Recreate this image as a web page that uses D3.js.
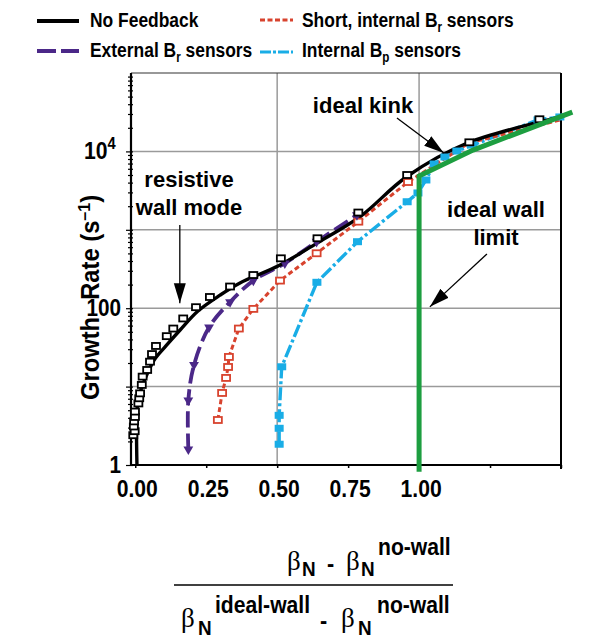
<!DOCTYPE html>
<html><head><meta charset="utf-8">
<script src="https://cdn.jsdelivr.net/npm/d3@7"></script>
<style>
html,body{margin:0;padding:0;background:#fff;}
svg{display:block;}
.b{font-family:"Liberation Sans",Arial,Helvetica,sans-serif;font-weight:bold;}
</style></head>
<body>
<svg id="chart" width="592" height="639"></svg>
<script>
// ---------------- DATA ----------------
const noFeedbackLineX = [0.006,0.006,0.013,0.027,0.045,0.069,0.108,0.158,0.221,0.299,0.369,0.51,0.639,0.792,0.956,1.168,1.5];
const noFeedbackLineY = [1,5.0,7.4,10.8,15.4,22.5,33,52.7,92,147,210,356,672,1470,4750,12700,27500];
const noFeedbackPtsX = [-0.007,-0.002,-0.005,-0.004,-0.001,-0.001,0.011,0.014,0.017,0.023,0.026,0.042,0.052,0.059,0.073,0.111,0.134,0.169,0.214,0.263,0.334,0.416,0.513,0.642,0.786,0.958,1.177,1.424];
const noFeedbackPtsY = [2.4,2.7,3.1,3.6,4.1,4.8,6.1,7.1,8.2,10.5,13.4,16.3,20.8,26,33,44,55,74,103,139,189,265,433,780,1660,5000,13060,25700];

const externalBrX = [0.187,0.187,0.207,0.260,0.334,0.416,0.527,0.639,0.781];
const externalBrY = [1.58,6.7,18.9,57,120,225,374,705,1545];

const shortBrX = [0.291,0.306,0.320,0.327,0.330,0.365,0.416,0.510,0.639,0.786,0.961,1.176,1.496];
const shortBrY = [3.75,8.3,12.9,17.8,23.9,55,98,225,502,1270,4070,12800,25200];
const shortBrMarkerCount = 11;

const internalBpX = [0.507,0.507,0.507,0.516,0.640,0.783,0.958,0.996,1.024,1.053,1.091,1.133,1.19,1.419,1.496];
const internalBpY = [1.84,2.94,4.3,17.9,214,705,2280,2950,4320,6900,8480,10100,12070,25200,27500];

const idealWallX = [1.0,1.0,1.19,1.54];
const idealWallY = [0.82,4850,10400,31700];

const xTickValues = [0,0.25,0.5,0.75,1.0,1.25,1.5];
const xTickLabels = ["0.00","0.25","0.50","0.75","1.00","",""];
const yTickValues = [1,100,1e4];
const yTickLabels = ["1","100","10|4"];
const xGrid = [0.5,1.0];
const yGrid = [10,100,1000,1e4];

const seriesNames = ["No Feedback","Short, internal B|r| sensors","External B|r| sensors","Internal B|p| sensors"];

// annotation anchors (data coords)
const rwmArrow = [[0.157,1150],[0.157,116]];
const kinkArrow = [[0.922,26700],[1.087,9550]];
const wallArrow = [[1.239,492],[1.038,104]];

// ---------------- DRAW ----------------
const svg = d3.select("#chart");
const x = d3.scaleLinear().domain([-0.015,1.5]).range([131,561]);
const y = d3.scaleLog().domain([1,1e5]).range([465,73]);
const C = {black:"#000", purple:"#4b2888", red:"#d8432e", blue:"#19ade6", green:"#1d9e40", grid:"#9a9a9a"};
const zip = (xs,ys)=>xs.map((v,i)=>[v,ys[i]]);

function ntext(parent, px, py, fs, sx, anchor){
  return parent.append("text").attr("class","b").attr("font-size",fs)
    .attr("text-anchor",anchor||"start")
    .attr("transform",`translate(${px},${py}) scale(${sx},1)`);
}

// grid
svg.append("g").selectAll("line").data(yGrid).join("line")
  .attr("x1",x.range()[0]).attr("x2",x.range()[1]).attr("y1",d=>y(d)).attr("y2",d=>y(d))
  .attr("stroke",C.grid).attr("stroke-width",1.5);
svg.append("g").selectAll("line").data(xGrid).join("line")
  .attr("y1",y.range()[0]).attr("y2",y.range()[1]).attr("x1",d=>x(d)).attr("x2",d=>x(d))
  .attr("stroke",C.grid).attr("stroke-width",1.5);
svg.append("line").attr("x1",x.range()[0]).attr("x2",x.range()[1]).attr("y1",y.range()[1]).attr("y2",y.range()[1]).attr("stroke","#333").attr("stroke-width",1.2);
svg.append("line").attr("x1",x.range()[1]).attr("x2",x.range()[1]).attr("y1",y.range()[1]).attr("y2",y.range()[0]+4).attr("stroke","#000").attr("stroke-width",2);

// axes
const xAxis = d3.axisBottom(x).tickValues(xTickValues).tickFormat("").tickSize(3);
const gx = svg.append("g").attr("transform",`translate(0,${y.range()[0]})`).call(xAxis);
gx.select(".domain").attr("stroke-width",2.2).attr("d",`M${x.range()[0]},0H${x.range()[1]}`);
gx.selectAll(".tick line").attr("stroke-width",1.5);

const minor = [];
for(let e=0;e<5;e++) for(let m=1;m<10;m++) minor.push(m*Math.pow(10,e));
const yAxis = d3.axisLeft(y).tickValues(minor).tickFormat("").tickSize(3);
const gy = svg.append("g").attr("transform",`translate(${x.range()[0]},0)`).call(yAxis);
gy.select(".domain").attr("stroke-width",2.2).attr("d",`M0,${y.range()[0]}V${y.range()[1]}`);
gy.selectAll(".tick line").attr("stroke-width",1.2).attr("x1",2)
  .filter(d=>Math.abs(Math.log10(d)-Math.round(Math.log10(d)))<1e-9).attr("x2",-5);

// x tick labels
xTickValues.forEach((v,i)=>{
  if(!xTickLabels[i]) return;
  ntext(svg, x(v)+2, 497, 23, 0.92, "middle").text(xTickLabels[i]);
});

// y tick labels
yTickValues.forEach((v,i)=>{
  const parts = yTickLabels[i].split("|");
  if(parts.length===1){ ntext(svg,121,y(v)+8,23,0.9,"end").text(parts[0]); }
  else { const t = ntext(svg,84,y(v)+8,23,0.92,"start");
    t.append("tspan").text(parts[0]);
    t.append("tspan").attr("font-size",16).attr("dy",-10).text(parts[1]); }
});

// y label (word gap leaves room for the "100" tick label)
const yl = svg.append("text").attr("class","b").attr("font-size",25)
  .attr("transform","translate(99,400) rotate(-90) scale(0.95,1)").attr("text-anchor","start");
yl.append("tspan").text("Growth");
yl.append("tspan").attr("dx",18).text("Rate (s");
yl.append("tspan").attr("font-size",17).attr("dy",-9).text("\u2013");
yl.append("tspan").attr("font-size",17).text("1");
yl.append("tspan").attr("dy",9).text(")");

// lines
const lineGen = d3.line().x(d=>x(d[0])).y(d=>y(d[1]));
const smooth = d3.line().x(d=>x(d[0])).y(d=>y(d[1])).curve(d3.curveCatmullRom.alpha(0.5));

svg.append("path").datum(zip(internalBpX,internalBpY)).attr("d",lineGen)
  .attr("fill","none").attr("stroke",C.blue).attr("stroke-width",3.4).attr("stroke-dasharray","13,3,3,3");
svg.append("path").datum(zip(shortBrX,shortBrY)).attr("d",lineGen)
  .attr("fill","none").attr("stroke",C.red).attr("stroke-width",3).attr("stroke-dasharray","5,3");
svg.append("path").datum(zip(externalBrX,externalBrY)).attr("d",smooth)
  .attr("fill","none").attr("stroke",C.purple).attr("stroke-width",3.8).attr("stroke-dasharray","16,6");
svg.append("path").datum(zip(noFeedbackLineX,noFeedbackLineY)).attr("d",smooth)
  .attr("fill","none").attr("stroke",C.black).attr("stroke-width",3.4);

// markers
svg.append("g").selectAll("rect").data(zip(internalBpX,internalBpY)).join("rect")
  .attr("x",d=>x(d[0])-4.5).attr("y",d=>y(d[1])-3.5).attr("width",9).attr("height",7).attr("fill",C.blue);
svg.append("g").selectAll("rect").data(zip(shortBrX,shortBrY).slice(0,shortBrMarkerCount)).join("rect")
  .attr("x",d=>x(d[0])-4).attr("y",d=>y(d[1])-3).attr("width",8).attr("height",6)
  .attr("fill","#fff").attr("stroke",C.red).attr("stroke-width",1.8);
svg.append("g").selectAll("path").data(zip(externalBrX,externalBrY)).join("path")
  .attr("d",d3.symbol(d3.symbolTriangle,42))
  .attr("transform",d=>`translate(${x(d[0])},${y(d[1])}) rotate(180)`).attr("fill",C.purple);
svg.append("g").selectAll("rect").data(zip(noFeedbackPtsX,noFeedbackPtsY)).join("rect")
  .attr("x",d=>x(d[0])-4).attr("y",d=>y(d[1])-3).attr("width",8).attr("height",6)
  .attr("fill","#fff").attr("stroke",C.black).attr("stroke-width",1.8);

// ideal wall limit
svg.append("path").datum(zip(idealWallX,idealWallY)).attr("d",lineGen)
  .attr("fill","none").attr("stroke",C.green).attr("stroke-width",5).attr("stroke-linejoin","miter");

// arrows
const defs = svg.append("defs");
defs.append("marker").attr("id","ah").attr("viewBox","0 0 10 10").attr("refX",10).attr("refY",5)
  .attr("markerWidth",20).attr("markerHeight",20).attr("markerUnits","userSpaceOnUse").attr("orient","auto")
  .append("path").attr("d","M0,2L10,5L0,8Z").attr("fill","#000");
[rwmArrow,kinkArrow,wallArrow].forEach(a=>{
  svg.append("line").attr("x1",x(a[0][0])).attr("y1",y(a[0][1])).attr("x2",x(a[1][0])).attr("y2",y(a[1][1]))
   .attr("stroke","#000").attr("stroke-width",1.3).attr("marker-end","url(#ah)");
});

// annotation texts
const ann = [["resistive",189,187],["wall mode",189,215],["ideal kink",363,113],["ideal wall",496,217],["limit",496,245]];
ann.forEach(a=>ntext(svg,a[1],a[2],22,1,"middle").text(a[0]));

// legend
const legend = [
  {name:seriesNames[0],x:37,y:21,len:42,color:C.black,dash:null,w:4},
  {name:seriesNames[1],x:260,y:20,len:33,color:C.red,dash:"5,2.5",w:3},
  {name:seriesNames[2],x:37,y:51,len:42,color:C.purple,dash:"19,5",w:4},
  {name:seriesNames[3],x:260,y:52,len:33,color:C.blue,dash:"11,2,3,2",w:3}
];
legend.forEach(l=>{
  svg.append("line").attr("x1",l.x).attr("x2",l.x+l.len).attr("y1",l.y).attr("y2",l.y)
    .attr("stroke",l.color).attr("stroke-width",l.w).attr("stroke-dasharray",l.dash);
  const parts = l.name.split("|");
  const t = ntext(svg, l.x+(l.x<100?53:42), l.y<35?27:57, 21, 0.83, "start");
  t.append("tspan").text(parts[0]);
  if(parts.length>1){
    t.append("tspan").attr("font-size",14).attr("dy",5).text(parts[1]);
    t.append("tspan").attr("dy",-5).text(parts[2]);
  }
});

// x-axis label as fraction
const frac = svg.append("g");
function beta(px,py){ frac.append("text").attr("x",px).attr("y",py).attr("font-family","'Liberation Serif','DejaVu Serif',serif").attr("font-size",27).text("\u03b2"); }
function bt(px,py,s,fs,sx){ ntext(frac,px,py,fs,sx||0.9,"start").text(s); }
beta(287,570); bt(302,576,"N",21); bt(327,572,"-",24); beta(346,570); bt(361,576,"N",21); bt(378,555,"no-wall",24,0.88);
frac.append("line").attr("x1",174).attr("x2",453).attr("y1",585).attr("y2",585).attr("stroke","#000").attr("stroke-width",1.5);
beta(181,627); bt(198,635,"N",21); bt(215,613,"ideal-wall",24,0.88); bt(320,629,"-",24); beta(341,627); bt(358,635,"N",21); bt(377,613,"no-wall",24,0.88);
</script>
</body></html>
